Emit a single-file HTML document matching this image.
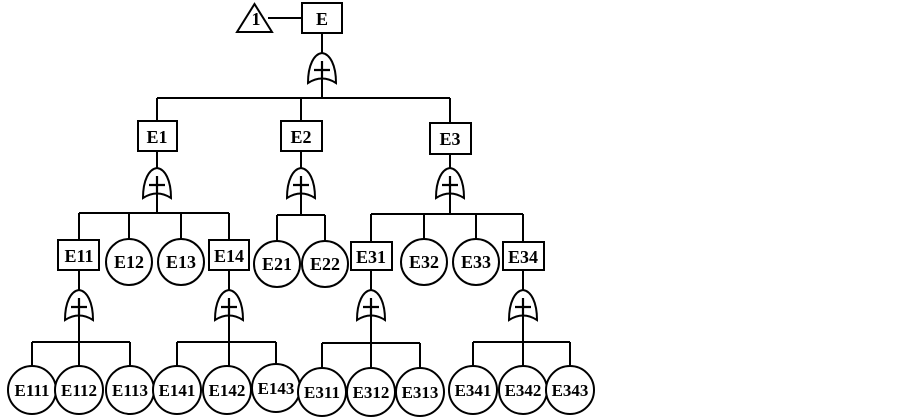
<!DOCTYPE html>
<html><head><meta charset="utf-8"><style>
html,body{margin:0;padding:0;background:#fff;}
svg{display:block;}
</style></head><body>
<svg width="903" height="417" viewBox="0 0 903 417" xmlns="http://www.w3.org/2000/svg">
<defs>
<g id="gate">
<path d="M-14,30 C-14,12 -8,1 0,0 C8,1 14,12 14,30 Q0,21 -14,30 Z" fill="#fff" stroke="#000" stroke-width="2"/>
<path d="M-8,17 H8 M0,8 V26" stroke="#000" stroke-width="2.2"/>
</g>
</defs>
<g stroke="#000" stroke-width="2" fill="none">
<polygon points="237,32 272,32 254.5,4" fill="#fff"/>
<line x1="268" y1="18" x2="302" y2="18"/>
<line x1="322" y1="33" x2="322" y2="98"/>
<line x1="157" y1="98" x2="450" y2="98"/>
<line x1="157" y1="98" x2="157" y2="213"/>
<line x1="301" y1="98" x2="301" y2="215"/>
<line x1="450" y1="98" x2="450" y2="214"/>
<line x1="79" y1="213" x2="229" y2="213"/>
<line x1="79" y1="213" x2="79" y2="342"/>
<line x1="129" y1="213" x2="129" y2="240"/>
<line x1="181" y1="213" x2="181" y2="240"/>
<line x1="229" y1="213" x2="229" y2="342"/>
<line x1="277" y1="215" x2="325" y2="215"/>
<line x1="277" y1="215" x2="277" y2="242"/>
<line x1="325" y1="215" x2="325" y2="242"/>
<line x1="371" y1="214" x2="523" y2="214"/>
<line x1="371" y1="214" x2="371" y2="343"/>
<line x1="424" y1="214" x2="424" y2="240"/>
<line x1="476" y1="214" x2="476" y2="240"/>
<line x1="523" y1="214" x2="523" y2="342"/>
<line x1="32" y1="342" x2="130" y2="342"/>
<line x1="32" y1="342" x2="32" y2="366"/>
<line x1="79" y1="342" x2="79" y2="366"/>
<line x1="130" y1="342" x2="130" y2="366"/>
<line x1="177" y1="342" x2="276" y2="342"/>
<line x1="177" y1="342" x2="177" y2="366"/>
<line x1="229" y1="342" x2="229" y2="366"/>
<line x1="276" y1="342" x2="276" y2="366"/>
<line x1="322" y1="343" x2="420" y2="343"/>
<line x1="322" y1="343" x2="322" y2="368"/>
<line x1="371" y1="343" x2="371" y2="368"/>
<line x1="420" y1="343" x2="420" y2="368"/>
<line x1="473" y1="342" x2="570" y2="342"/>
<line x1="473" y1="342" x2="473" y2="366"/>
<line x1="523" y1="342" x2="523" y2="366"/>
<line x1="570" y1="342" x2="570" y2="366"/>
<g fill="#fff">
<rect x="302" y="3" width="40" height="30"/>
<rect x="138" y="121" width="39" height="30"/>
<rect x="281" y="121" width="41" height="30"/>
<rect x="430" y="123" width="41" height="31"/>
<rect x="58" y="240" width="41" height="30"/>
<rect x="209" y="240" width="40" height="30"/>
<rect x="351" y="242" width="41" height="28"/>
<rect x="503" y="242" width="41" height="28"/>
<circle cx="129" cy="262" r="23"/>
<circle cx="181" cy="262" r="23"/>
<circle cx="277" cy="264" r="23"/>
<circle cx="325" cy="264" r="23"/>
<circle cx="424" cy="262" r="23"/>
<circle cx="476" cy="262" r="23"/>
<circle cx="32" cy="390" r="24"/>
<circle cx="79" cy="390" r="24"/>
<circle cx="130" cy="390" r="24"/>
<circle cx="177" cy="390" r="24"/>
<circle cx="227" cy="390" r="24"/>
<circle cx="276" cy="388" r="24"/>
<circle cx="322" cy="392" r="24"/>
<circle cx="371" cy="392" r="24"/>
<circle cx="420" cy="392" r="24"/>
<circle cx="473" cy="390" r="24"/>
<circle cx="523" cy="390" r="24"/>
<circle cx="570" cy="390" r="24"/>
</g>
</g>
<use href="#gate" x="322" y="53"/>
<use href="#gate" x="157" y="168"/>
<use href="#gate" x="301" y="168"/>
<use href="#gate" x="450" y="168"/>
<use href="#gate" x="79" y="290"/>
<use href="#gate" x="229" y="290"/>
<use href="#gate" x="371" y="290"/>
<use href="#gate" x="523" y="290"/>
<g font-family="Liberation Serif, serif" font-weight="bold" font-size="18" text-anchor="middle" fill="#000">
<text x="256" y="25">1</text>
<text x="322" y="25">E</text>
<text x="157" y="143">E1</text>
<text x="301" y="143">E2</text>
<text x="450" y="145">E3</text>
<text x="79" y="262">E11</text>
<text x="129" y="268">E12</text>
<text x="181" y="268">E13</text>
<text x="229" y="262">E14</text>
<text x="277" y="270">E21</text>
<text x="325" y="270">E22</text>
<text x="371" y="263">E31</text>
<text x="424" y="268">E32</text>
<text x="476" y="268">E33</text>
<text x="523" y="263">E34</text>
<g font-size="17">
<text x="32" y="396">E111</text>
<text x="79" y="396">E112</text>
<text x="130" y="396">E113</text>
<text x="177" y="396">E141</text>
<text x="227" y="396">E142</text>
<text x="276" y="394">E143</text>
<text x="322" y="398">E311</text>
<text x="371" y="398">E312</text>
<text x="420" y="398">E313</text>
<text x="473" y="396">E341</text>
<text x="523" y="396">E342</text>
<text x="570" y="396">E343</text>
</g>
</g>
</svg>
</body></html>
